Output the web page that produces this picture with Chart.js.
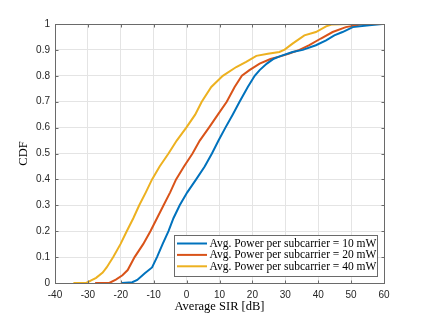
<!DOCTYPE html>
<html>
<head>
<meta charset="utf-8">
<script src="https://cdn.jsdelivr.net/npm/chart.js@4"></script>
<style>
  html, body { margin: 0; padding: 0; background: #ffffff; }
  #wrap { width: 425px; height: 319px; position: relative; }
</style>
</head>
<body>
<div id="wrap"><canvas id="c" width="425" height="319"></canvas></div>
<script>
// ---- data ----
const seriesLabels = [
  'Avg. Power per subcarrier = 10 mW',
  'Avg. Power per subcarrier = 20 mW',
  'Avg. Power per subcarrier = 40 mW'
];
const seriesColors = ['#0072BD', '#D95319', '#EDB120'];

const sir10 = [-19.7, -16.5, -15, -12.7, -10.5, -9, -7.3, -5.5, -4, -2.1, 0.2, 2.9, 5.5, 7.7, 9.7, 11.8, 14.0, 16.1, 18.6, 20.7, 22.2, 24.4, 26.5, 28.5, 32.2, 35.3, 39.3, 42.4, 44.9, 47.4, 50.5, 55.5, 59.5];
const cdf10 = [0, 0.003, 0.012, 0.038, 0.06, 0.1, 0.15, 0.2, 0.25, 0.3, 0.35, 0.4, 0.45, 0.5, 0.55, 0.6, 0.65, 0.7, 0.757, 0.8, 0.822, 0.847, 0.866, 0.876, 0.892, 0.9, 0.918, 0.937, 0.956, 0.969, 0.988, 0.995, 1.0];

const sir20 = [-27.8, -23.5, -21.5, -19.5, -17.9, -15.8, -13.2, -11, -9, -7, -5, -3.2, -0.8, 1.8, 4, 6.8, 9.5, 12.2, 14.6, 16.8, 19.1, 22.2, 25.5, 28.7, 31.2, 34.3, 37.3, 40.8, 44.4, 48.4, 53.7];
const cdf20 = [0, 0, 0.013, 0.03, 0.05, 0.1, 0.15, 0.2, 0.25, 0.3, 0.35, 0.4, 0.45, 0.5, 0.55, 0.6, 0.65, 0.7, 0.757, 0.8, 0.822, 0.847, 0.865, 0.876, 0.886, 0.9, 0.918, 0.944, 0.969, 0.988, 1.0];

const sir40 = [-34.4, -30.5, -29, -27.5, -25.5, -24.3, -22.3, -20.1, -18.2, -16.2, -14.4, -12.4, -10.5, -8.2, -5.5, -3.0, -0.1, 2.6, 4.6, 7.5, 11, 15.1, 18.1, 21.2, 24.7, 28.2, 29.8, 32.2, 35.8, 39.3, 42.4, 44, 50];
const cdf40 = [0, 0, 0.01, 0.02, 0.04, 0.06, 0.1, 0.15, 0.2, 0.25, 0.3, 0.35, 0.4, 0.45, 0.5, 0.55, 0.6, 0.65, 0.7, 0.757, 0.8, 0.834, 0.854, 0.877, 0.885, 0.892, 0.901, 0.924, 0.956, 0.969, 0.991, 0.998, 1.0];

const xTickValues = [-40, -30, -20, -10, 0, 10, 20, 30, 40, 50, 60];
const xTickLabels = ['-40', '-30', '-20', '-10', '0', '10', '20', '30', '40', '50', '60'];
const yTickValues = [0, 0.1, 0.2, 0.3, 0.4, 0.5, 0.6, 0.7, 0.8, 0.9, 1];
const yTickLabels = ['0', '0.1', '0.2', '0.3', '0.4', '0.5', '0.6', '0.7', '0.8', '0.9', '1'];
const xTitle = 'Average SIR [dB]';
const yTitle = 'CDF';

// ---- build datasets ----
function pts(xs, ys) { return xs.map((x, i) => ({ x: x, y: ys[i] })); }
const allX = [sir10, sir20, sir40];
const allY = [cdf10, cdf20, cdf40];
const datasets = seriesLabels.map((lab, i) => ({
  label: lab,
  data: pts(allX[i], allY[i]),
  borderColor: seriesColors[i],
  backgroundColor: seriesColors[i],
  borderWidth: 2,
  pointRadius: 0,
  showLine: true,
  tension: 0,
  fill: false
}));

function labelFor(values, labels, v) {
  for (let i = 0; i < values.length; i++) if (Math.abs(values[i] - v) < 1e-6) return labels[i];
  return '';
}

const boxPlugin = {
  id: 'matlabBox',
  afterDraw(chart) {
    const ctx = chart.ctx;
    const a = chart.chartArea;
    const xs = chart.scales.x, ys = chart.scales.y;
    const L = Math.round(a.left) + 0.5, R = Math.round(a.right) + 0.5;
    const T = Math.round(a.top) + 0.5, B = Math.round(a.bottom) + 0.5;
    ctx.save();
    ctx.strokeStyle = '#6a6a6a';
    ctx.lineWidth = 1;
    ctx.strokeRect(L, T, R - L, B - T);
    const tl = 3;
    ctx.beginPath();
    xTickValues.forEach(v => {
      const px = Math.round(xs.getPixelForValue(v)) + 0.5;
      ctx.moveTo(px, B); ctx.lineTo(px, B - tl);
      ctx.moveTo(px, T); ctx.lineTo(px, T + tl);
    });
    yTickValues.forEach(v => {
      const py = Math.round(ys.getPixelForValue(v)) + 0.5;
      ctx.moveTo(L, py); ctx.lineTo(L + tl, py);
      ctx.moveTo(R, py); ctx.lineTo(R - tl, py);
    });
    ctx.stroke();

    // legend (inside, bottom right)
    const lx = 174.5, ly = 235.5, lw = 203, lh = 41;
    ctx.fillStyle = '#ffffff';
    ctx.fillRect(lx, ly, lw, lh);
    ctx.strokeStyle = '#6a6a6a';
    ctx.strokeRect(lx, ly, lw, lh);
    ctx.font = '11.5px "Liberation Serif", "DejaVu Serif", serif';
    ctx.textBaseline = 'middle';
    ctx.textAlign = 'left';
    chart.data.datasets.forEach((ds, i) => {
      const cy = 243.5 + i * 11.4;
      ctx.strokeStyle = ds.borderColor;
      ctx.lineWidth = 2;
      ctx.beginPath();
      ctx.moveTo(177, cy); ctx.lineTo(207, cy);
      ctx.stroke();
      ctx.fillStyle = '#000000';
      ctx.fillText(ds.label, 209.5, cy + 0.5);
    });
    ctx.restore();
  }
};

new Chart(document.getElementById('c'), {
  type: 'scatter',
  data: { datasets: datasets },
  options: {
    responsive: false,
    animation: false,
    devicePixelRatio: 1,
    layout: { padding: { left: 0, right: 41, top: 24, bottom: 0 } },
    plugins: { legend: { display: false }, tooltip: { enabled: false } },
    scales: {
      x: {
        type: 'linear', min: -40, max: 60,
        afterFit: s => { s.height = 36; },
        afterBuildTicks: s => { s.ticks = xTickValues.map(v => ({ value: v })); },
        ticks: {
          padding: 6, color: '#262626', maxRotation: 0, autoSkip: false,
          font: { family: '"Liberation Sans", Arial, sans-serif', size: 10 },
          callback: v => labelFor(xTickValues, xTickLabels, v)
        },
        grid: { color: '#e4e4e4', lineWidth: 1, drawTicks: false },
        border: { display: false },
        title: {
          display: true, text: xTitle, color: '#000000',
          font: { family: '"Liberation Serif", "DejaVu Serif", serif', size: 12.5 },
          padding: { top: 0, bottom: 5 }
        }
      },
      y: {
        type: 'linear', min: 0, max: 1,
        afterFit: s => { s.width = 55; },
        afterBuildTicks: s => { s.ticks = yTickValues.map(v => ({ value: v })); },
        ticks: {
          padding: 5, color: '#262626', autoSkip: false,
          font: { family: '"Liberation Sans", Arial, sans-serif', size: 10 },
          callback: v => labelFor(yTickValues, yTickLabels, v)
        },
        grid: { color: '#e4e4e4', lineWidth: 1, drawTicks: false },
        border: { display: false },
        title: {
          display: true, text: yTitle, color: '#000000',
          font: { family: '"Liberation Serif", "DejaVu Serif", serif', size: 12.5 },
          padding: { top: 16, bottom: 0 }
        }
      }
    }
  },
  plugins: [boxPlugin]
});
</script>
</body>
</html>
